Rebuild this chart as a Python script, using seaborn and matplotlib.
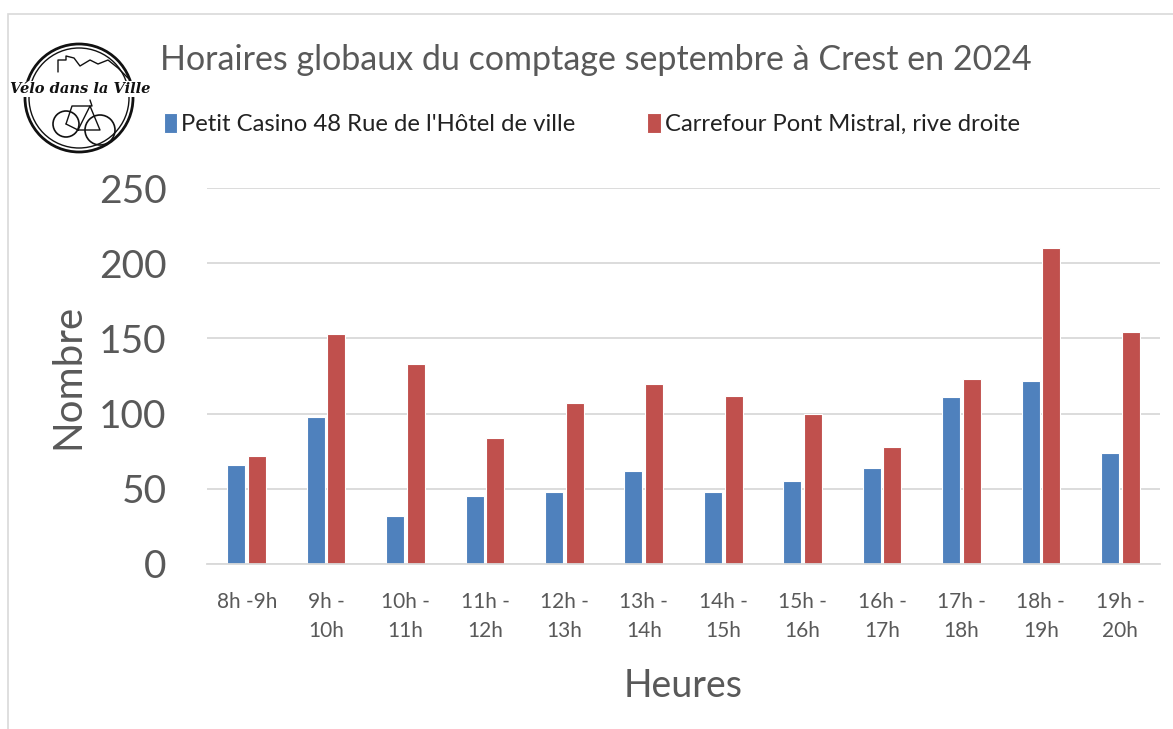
import numpy as np
import pandas as pd
import seaborn as sns
import matplotlib.pyplot as plt
from matplotlib.patches import Circle, Rectangle

# ============================
# DATA
# ============================
heures = ["8h -9h", "9h -\n10h", "10h -\n11h", "11h -\n12h", "12h -\n13h", "13h -\n14h",
          "14h -\n15h", "15h -\n16h", "16h -\n17h", "17h -\n18h", "18h -\n19h", "19h -\n20h"]
petit_casino = [66, 98, 32, 45, 48, 62, 48, 55, 64, 111, 122, 74]
carrefour = [72, 153, 133, 84, 107, 120, 112, 100, 78, 123, 210, 154]
lieux = ["Petit Casino 48 Rue de l'Hôtel de ville", "Carrefour Pont Mistral, rive droite"]
couleurs = ["#4F81BD", "#C0504D"]
y_ticks = [0, 50, 100, 150, 200, 250]

df = pd.DataFrame({
    "Heures": heures * 2,
    "Nombre": petit_casino + carrefour,
    "Lieu": [lieux[0]] * len(heures) + [lieux[1]] * len(heures),
})

sns.set_theme(style="white")
plt.rcParams['font.family'] = ['Lato', 'DejaVu Sans']
txt = "#595959"

fig = plt.figure(figsize=(11.73, 7.29), dpi=100)
ax = fig.add_axes([207 / 1173, 1 - 564 / 729, (1160 - 207) / 1173, (564 - 188) / 729])

sns.barplot(data=df, x="Heures", y="Nombre", hue="Lieu", palette=couleurs,
            width=0.52, gap=0.13, edgecolor="white", linewidth=0.8,
            saturation=1, ax=ax, legend=True)

ax.set_ylim(0, 250)
ax.set_xlim(-0.5, len(heures) - 0.5)
ax.set_yticks(y_ticks)
ax.set_yticklabels([str(v) for v in y_ticks], fontsize=28, color=txt)
ax.tick_params(axis="y", length=0, pad=29)
ax.tick_params(axis="x", length=0, pad=20, labelsize=15, labelcolor=txt)
for lab in ax.get_xticklabels():
    lab.set_linespacing(1.6)
ax.yaxis.grid(True, color="#d9d9d9", linewidth=1.3)
ax.set_axisbelow(True)
for s in ["top", "right", "left"]:
    ax.spines[s].set_visible(False)
ax.spines["bottom"].set_color("#d9d9d9")
ax.spines["bottom"].set_linewidth(1.3)

ax.set_xlabel("Heures", fontsize=27, color=txt, labelpad=19)
ax.set_ylabel("Nombre", fontsize=29, color=txt, labelpad=9)

handles, labels = ax.get_legend_handles_labels()
ax.legend_.remove()
fig.legend(handles, labels, loc="center left", bbox_to_anchor=(154 / 1173, 1 - 124 / 729),
           ncol=2, frameon=False, fontsize=17.2, labelcolor="#222222",
           handlelength=0.55, handleheight=0.9, handletextpad=0.2, columnspacing=3.0,
           borderaxespad=0)

fig.text(160 / 1173, 1 - 60 / 729, "Horaires globaux du comptage septembre à Crest en 2024",
         fontsize=24.5, color=txt, va="center", ha="left")

# chart border
fig.patches.append(Rectangle((8 / 1173, -0.05), 1.2, 1 - 14 / 729 + 0.05,
                             transform=fig.transFigure, fill=False,
                             edgecolor="#d9d9d9", linewidth=1.2))

# logo
lx = fig.add_axes([10 / 1173, 1 - 160 / 729, 140 / 1173, 125 / 729])
lx.set_xlim(10, 150)
lx.set_ylim(160, 35)
lx.set_aspect("equal")
lx.axis("off")
lx.add_patch(Circle((79, 98), 54, fill=False, lw=2, color="#111111"))
lx.add_patch(Circle((79, 98), 50, fill=False, lw=1, color="#111111"))
lx.plot([58, 58, 66, 66, 74, 80, 90, 98, 108, 118, 128],
        [72, 60, 60, 56, 58, 66, 60, 64, 60, 68, 78], color="#111111", lw=1)
lx.add_patch(Circle((66, 124), 13, fill=False, lw=1.2, color="#111111"))
lx.add_patch(Circle((100, 130), 15, fill=False, lw=1.2, color="#111111"))
lx.plot([66, 78, 100, 90, 78], [124, 130, 130, 106, 130], color="#111111", lw=1)
lx.plot([66, 72, 92, 90], [124, 106, 106, 100], color="#111111", lw=1)
lx.text(80, 89, "Vélo dans la Ville", ha="center", va="center", fontsize=10.5,
        style="italic", fontweight="bold", family="DejaVu Serif", color="#111111",
        bbox=dict(facecolor="white", edgecolor="none", pad=0.5))

fig.savefig("out.png", dpi=100)
